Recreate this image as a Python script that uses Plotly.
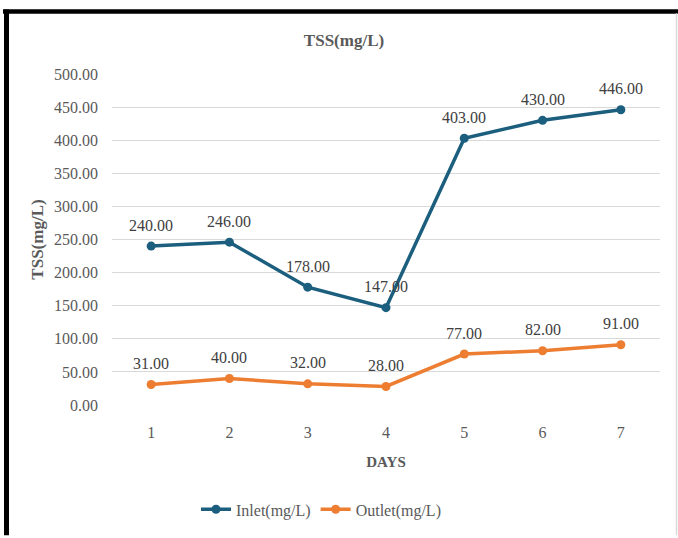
import plotly.graph_objects as go

# TSS measurements over seven days
days = [1, 2, 3, 4, 5, 6, 7]
inlet = [240, 246, 178, 147, 403, 430, 446]
outlet = [31, 40, 32, 28, 77, 82, 91]
y_ticks = [0, 50, 100, 150, 200, 250, 300, 350, 400, 450, 500]

INLET_COLOR = "#1B5E7E"
OUTLET_COLOR = "#ED7D31"
FONT = "'Liberation Serif', 'DejaVu Serif', serif"
W, H = 678, 538
L, R, T, B = 112, 18, 74, 131

fig = go.Figure()
for name, vals, color in [("Inlet(mg/L)", inlet, INLET_COLOR),
                          ("Outlet(mg/L)", outlet, OUTLET_COLOR)]:
    fig.add_trace(go.Scatter(
        x=days, y=vals, name=name, mode="lines+markers",
        line=dict(color=color, width=3.5),
        marker=dict(color=color, size=9),
        cliponaxis=False,
    ))

# value labels above every point
annotations = []
for vals in (inlet, outlet):
    for d, v in zip(days, vals):
        annotations.append(dict(
            x=d, y=v, xref="x", yref="y", text=f"{v:.2f}", showarrow=False,
            yshift=21, font=dict(family=FONT, size=16, color="#404040"),
        ))

# chart frame: heavy black edge on top and left, light edge on the right
def px_x(px):
    return (px - L) / (W - L - R)

def px_y(py):
    return (H - B - py) / (H - T - B)

shapes = [
    dict(type="line", xref="paper", yref="paper", x0=px_x(3), x1=px_x(678),
         y0=px_y(11), y1=px_y(11), line=dict(color="black", width=4.5)),
    dict(type="line", xref="paper", yref="paper", x0=px_x(6.5), x1=px_x(6.5),
         y0=px_y(9), y1=px_y(538), line=dict(color="black", width=5)),
    dict(type="line", xref="paper", yref="paper", x0=px_x(676.5), x1=px_x(676.5),
         y0=px_y(13), y1=px_y(538), line=dict(color="#D9D9D9", width=1.5)),
]

fig.update_layout(
    width=W, height=H,
    margin=dict(l=L, r=R, t=T, b=B),
    paper_bgcolor="white", plot_bgcolor="white",
    font=dict(family=FONT, size=16, color="#595959"),
    title=dict(text="<b>TSS(mg/L)</b>", x=px_x(344), xref="paper", xanchor="center",
               y=1 - 40 / H, yanchor="middle",
               font=dict(family=FONT, size=17, color="#595959")),
    xaxis=dict(
        range=[0.5, 7.5], tickmode="array", tickvals=days,
        ticktext=[str(d) for d in days],
        showgrid=False, zeroline=False, showline=False, ticks="",
        ticklabelstandoff=16,
        tickfont=dict(family=FONT, size=16, color="#595959"),
        title=dict(text="<b>DAYS</b>", standoff=16,
                   font=dict(family=FONT, size=15, color="#595959")),
    ),
    yaxis=dict(
        range=[0, 500], tickmode="array", tickvals=y_ticks,
        tickformat=".2f", showgrid=True, gridcolor="#D9D9D9", gridwidth=1,
        zeroline=False, showline=False, ticks="",
        ticklabelstandoff=13,
        tickfont=dict(family=FONT, size=16, color="#595959"),
        title=dict(text="<b>TSS(mg/L)</b>", standoff=6,
                   font=dict(family=FONT, size=17, color="#595959")),
    ),
    showlegend=True,
    legend=dict(orientation="h", x=px_x(321), xanchor="center",
                y=px_y(512), yanchor="middle",
                font=dict(family=FONT, size=16, color="#595959"),
                itemwidth=30),
    annotations=annotations,
    shapes=shapes,
)

fig.write_html("out.html")
